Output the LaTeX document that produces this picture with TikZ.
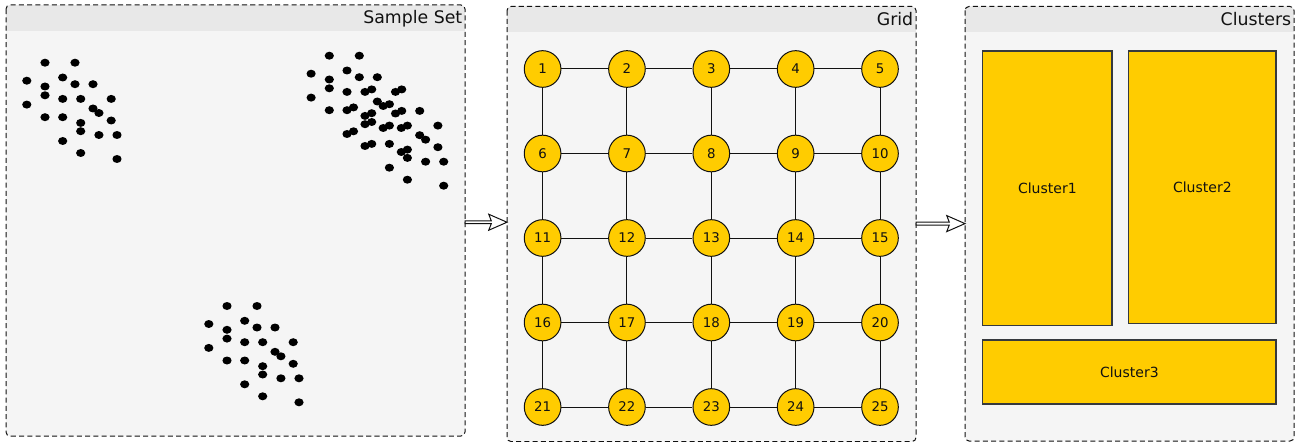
\documentclass[tikz,border=0pt]{standalone}
\usepackage{fontspec}
\setmainfont{DejaVu Sans}
\usetikzlibrary{calc}
\definecolor{panelbg}{HTML}{F5F5F5}
\definecolor{barbg}{HTML}{E8E8E8}
\definecolor{gold}{HTML}{FFCC00}
\definecolor{rim}{HTML}{36393D}
\definecolor{ink}{HTML}{111111}

% one dashed stage panel with a grey title bar: name, x1, y1, x2, y2, title
\newcommand\stagepanel[6]{%
  \node[panelnode, minimum width={(#4-#2)*0.75pt}, minimum height={(#5-#3)*0.75pt}]
    (#1) at ({(#2+#4)/2},{(#3+#5)/2}) {};
  \begin{scope}
    \clip[rounded corners=3pt] (#1.north west) rectangle (#1.south east);
    \fill[barbg] (#1.north west) rectangle ($(#1.north east)+(0,26)$);
  \end{scope}
  \draw[panelborder] (#1.north west) rectangle (#1.south east);
  \node[titletext] (#1-title) at ($(#1.north east)+(-2.5,19)$) {#6};
}

% one rectangular cluster: name, x1, y1, x2, y2, label
\newcommand\clusterbox[6]{%
  \node[clusterrect, minimum width={(#4-#2)*0.75pt}, minimum height={(#5-#3)*0.75pt}]
    (#1) at ({(#2+#4)/2},{(#3+#5)/2}) {#6};
}

\begin{document}
\begin{tikzpicture}[x=0.75pt,y=-0.75pt,
  panelnode/.style={fill=panelbg, draw=none, rounded corners=3pt, inner sep=0pt, outer sep=0pt},
  panelborder/.style={draw=ink, line width=0.75pt, dash pattern=on 3.8pt off 2.4pt, rounded corners=3pt},
  titletext/.style={anchor=base east, inner sep=0pt, text=ink, font=\fontsize{13pt}{15pt}\selectfont},
  cell/.style={circle, draw=ink, fill=gold, line width=0.75pt, minimum size=27.5pt, inner sep=0pt,
    text=ink, font=\fontsize{10pt}{12pt}\selectfont},
  link/.style={draw=ink, line width=0.75pt},
  clusterrect/.style={rectangle, draw=rim, fill=gold, line width=0.9pt, inner sep=0pt,
    text=ink, font=\fontsize{10.5pt}{12pt}\selectfont},
  sample/.style={fill=black},
  dotgroup/.pic={
    \foreach \a/\b in {0/0, 30/0, -18.2/18, 17.7/14.8, 0/23.8, 30/21.5, 48/21.5, 0/32.6,
      17.7/36.2, 35.7/36.2, 66.2/36.2, -18.2/41.9, 48/45.8, 53.9/50.3, 0/54.5, 17.7/54.5,
      35.7/60.2, 66.2/57.8, 35.7/68.5, 53.9/72.3, 72/72.3, 17.7/78.3, 35.7/90.3, 72/96.3}
      \fill[sample] (\a,\b) ellipse[x radius=3.45pt, y radius=3pt];
  },
  flexarrow/.style={draw=ink, fill=white, line width=0.75pt, line join=miter,
    to path={let \p1=(\tikztostart), \p2=(\tikztotarget) in
      (\x1,\y1+1.1pt) -- (\x2-11.8pt,\y1+1.1pt) -- (\x2-13.7pt,\y1+6pt) -- (\x2,\y1)
      -- (\x2-13.7pt,\y1-6pt) -- (\x2-11.8pt,\y1-1.1pt) -- (\x1,\y1-1.1pt) -- cycle}}
]
\useasboundingbox (0,0) rectangle (1305,442);

% the three stages
\stagepanel{samples}{6}{5}{465}{436}{Sample Set}
\stagepanel{grid}{507}{6.5}{916}{441.5}{Grid}
\stagepanel{clusters}{965}{6.5}{1294}{441}{Clusters}

% scattered samples
\pic at (45,62.7) {dotgroup};
\pic at (227,306) {dotgroup};
\pic at (329.3,55.7) {dotgroup};
\pic at (371.7,89.4) {dotgroup};

% 5x5 grid of numbered cells
\foreach \r in {0,...,4}
  \foreach \c in {0,...,4} {
    \pgfmathtruncatemacro\k{\r*5+\c+1}
    \node[cell] (n\k) at ({542.6+84.35*\c},{69+84.5*\r}) {\k};
  }
\foreach \r in {0,...,4}
  \foreach \c in {0,...,3} {
    \pgfmathtruncatemacro\k{\r*5+\c+1}
    \pgfmathtruncatemacro\m{\k+1}
    \draw[link] (n\k) -- (n\m);
  }
\foreach \k in {1,...,20} {
  \pgfmathtruncatemacro\m{\k+5}
  \draw[link] (n\k) -- (n\m);
}

% resulting clusters
\clusterbox{c1}{982.7}{51}{1112}{325.7}{Cluster1}
\clusterbox{c2}{1128.7}{51}{1276}{323.3}{Cluster2}
\clusterbox{c3}{982.7}{340}{1276}{404}{Cluster3}

% stage transitions
\draw[flexarrow] ([yshift=-1.3pt]samples.east) to (grid.west);
\draw[flexarrow] ([yshift=0.3pt]grid.east) to (clusters.west);
\end{tikzpicture}
\end{document}
